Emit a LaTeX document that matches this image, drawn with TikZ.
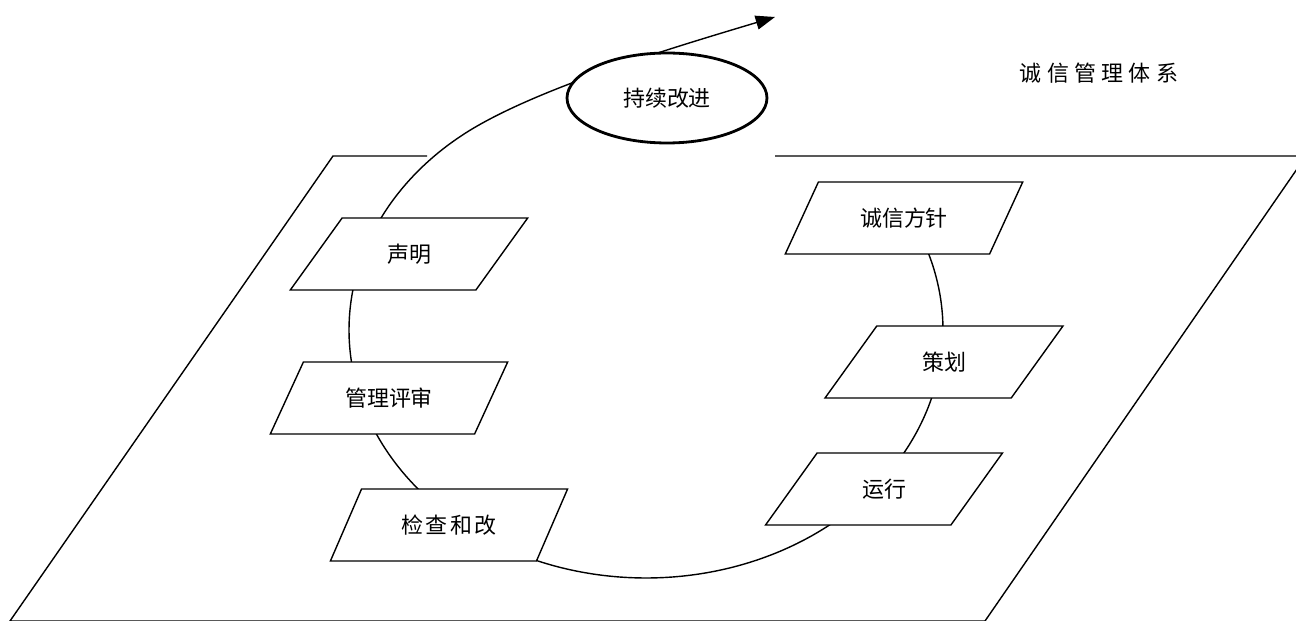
\documentclass[tikz,border=0pt]{standalone}
\usepackage{fontspec}
\usepackage{tikz}
\usetikzlibrary{arrows.meta,shapes.geometric,backgrounds}
\newfontfamily\cjk{Noto Sans CJK SC}
\tikzset{
  pg/.style = {trapezium, trapezium left angle=50.2, trapezium right angle=129.8,
    trapezium stretches=true, draw=black, fill=white, line width=0.8pt,
    minimum width=4.76cm, minimum height=1.44cm, inner sep=0pt,
    font=\cjk\fontsize{12.5}{14}\selectfont},% parallelogram step
  el/.style = {ellipse, draw=black, fill=white, line width=1.6pt,
    minimum width=4cm, minimum height=1.8cm, inner sep=0pt,
    font=\cjk\fontsize{12.5}{14}\selectfont},% improvement ellipse
  lbl/.style = {inner sep=0pt, font=\cjk\fontsize{12.5}{14}\selectfont}
}
\begin{document}
\begin{tikzpicture}[x=0.02cm,y=-0.02cm,>={Triangle[length=11pt,width=8pt]}]
\useasboundingbox (0,0) rectangle (1296,621);
\node [pg] (shengming) at (409,254) {声明};
\node [pg] (guanli) at (389,398) {管理评审};
\node [pg] (jiancha) at (449,525) {检\hspace{1.5pt}查\hspace{1.5pt}和\hspace{1.5pt}改};
\node [pg] (fangzhen) at (904,218) {诚信方针};
\node [pg] (cehua) at (944,362) {策划};
\node [pg] (yunxing) at (884,489) {运行};
\node [el] (gaijin) at (667,98) {持续改进};
\node [lbl] (tixi) at (1099,73) {诚\hspace{3pt}信\hspace{3pt}管\hspace{3pt}理\hspace{3pt}体\hspace{3pt}系};
\coordinate (tip) at (775,17);
\begin{scope}[on background layer]
  \clip (0,0) rectangle (1296,621);
  % plane of the system
  \draw [line width=0.8pt] (427,156) -- (333,156) -- (10,621) -- (985,621) -- (1306,156) -- (775,156);
  % cycle through the steps
  \draw [->, line width=0.8pt] plot[domain=-20:232, samples=150, smooth]
    ({646+297*cos(\x)},{330+248*sin(\x)})
    .. controls (533,89) and (675,47) .. (tip);
\end{scope}
\end{tikzpicture}
\end{document}
